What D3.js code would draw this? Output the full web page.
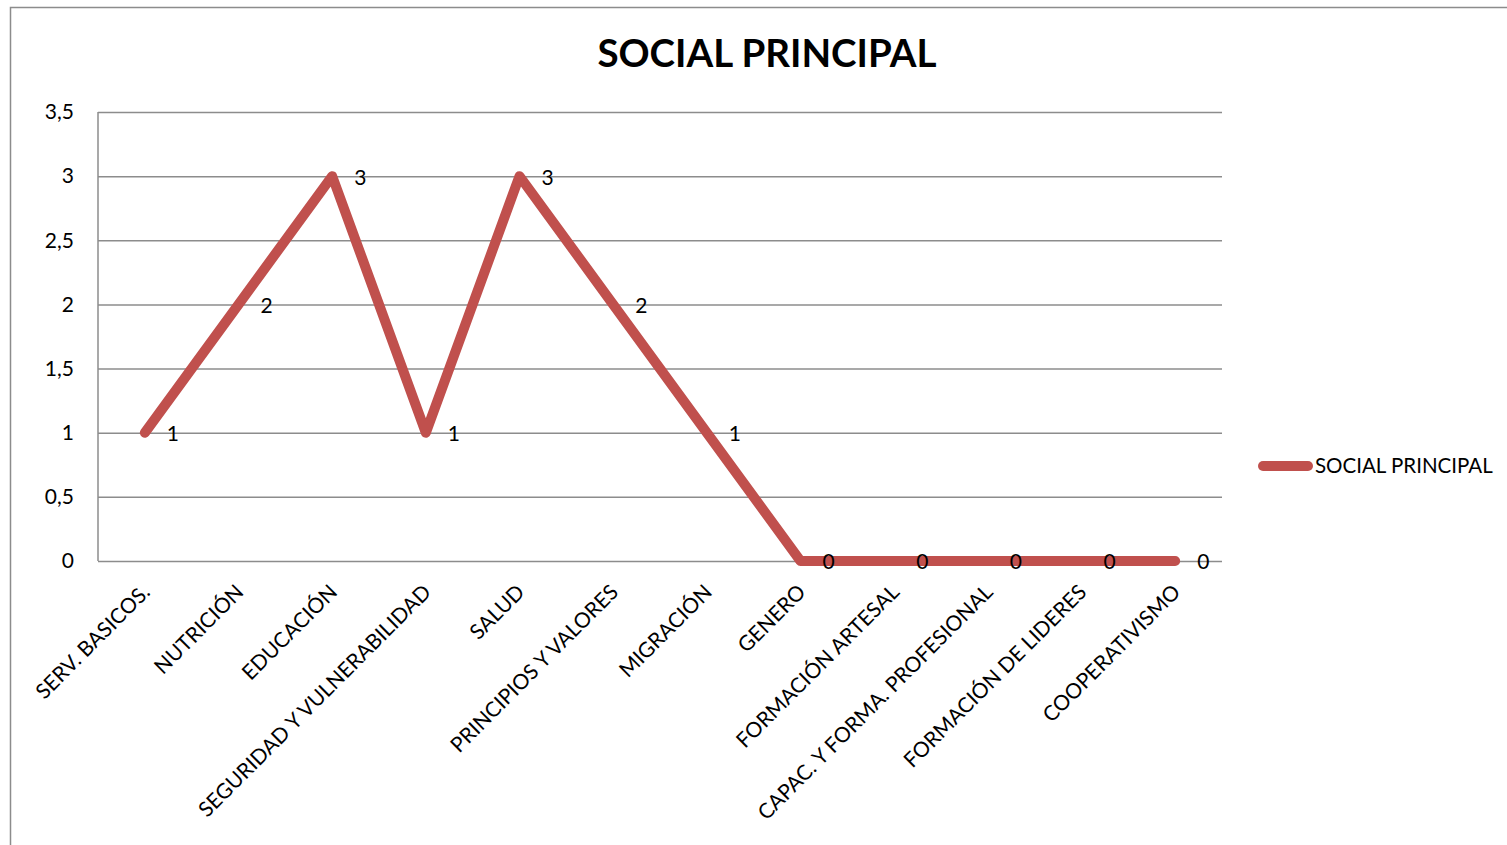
<!DOCTYPE html>
<html>
<head>
<meta charset="utf-8">
<script src="https://cdn.jsdelivr.net/npm/d3@7"></script>
<style>
  body { margin: 0; background: #fff; }
  svg text { font-family: Lato, "Open Sans", sans-serif; fill: #000; }
  .grid line { stroke: #8c8c8c; stroke-width: 1.5; }
  .grid .domain { display: none; }
</style>
</head>
<body>
<div id="chart"></div>
<script>
// chart values
var categories = ['SERV. BASICOS.', 'NUTRICIÓN', 'EDUCACIÓN', 'SEGURIDAD Y VULNERABILIDAD', 'SALUD',
  'PRINCIPIOS Y VALORES', 'MIGRACIÓN', 'GENERO', 'FORMACIÓN ARTESAL', 'CAPAC. Y FORMA. PROFESIONAL',
  'FORMACIÓN DE LIDERES', 'COOPERATIVISMO'];
var values = [1, 2, 3, 1, 3, 2, 1, 0, 0, 0, 0, 0];
var y_ticks = [0, 0.5, 1, 1.5, 2, 2.5, 3, 3.5];
var series_name = 'SOCIAL PRINCIPAL';
var title_text = 'SOCIAL PRINCIPAL';

var W = 1507, H = 845;
var color = '#C0504D';
var svg = d3.select('#chart').append('svg').attr('width', W).attr('height', H);

// outer chart border
svg.append('rect').attr('x', 10.5).attr('y', 7.5).attr('width', W + 10).attr('height', H + 10)
  .attr('fill', 'none').attr('stroke', '#8c8c8c').attr('stroke-width', 1.5);

var plot_left = 98, plot_right = 1222, plot_top = 112, plot_bottom = 561;

var x_scale = d3.scaleBand().domain(categories).range([plot_left, plot_right]);
var y_scale = d3.scaleLinear().domain([0, 3.5]).range([plot_bottom, plot_top]);
var cx = d => x_scale(d) + x_scale.bandwidth() / 2;

// gridlines
svg.append('g').attr('class', 'grid')
  .attr('transform', 'translate(' + plot_left + ',0)')
  .call(d3.axisLeft(y_scale).tickValues(y_ticks).tickSize(-(plot_right - plot_left)).tickFormat(''));

// y axis line
svg.append('line').attr('x1', plot_left).attr('x2', plot_left).attr('y1', plot_top).attr('y2', plot_bottom)
  .attr('stroke', '#8c8c8c').attr('stroke-width', 1.5);

// y tick labels
var fmt = function(d) { return String(d).replace('.', ','); };
svg.append('g').selectAll('text').data(y_ticks).enter().append('text')
  .attr('x', 74).attr('y', d => y_scale(d)).attr('dy', '0.35em')
  .attr('text-anchor', 'end').style('font-size', '21px').text(fmt);

// x labels rotated
svg.append('g').selectAll('text').data(categories).enter().append('text')
  .attr('transform', d => 'translate(' + (cx(d) - 4) + ',' + 583 + ') rotate(-45)')
  .attr('text-anchor', 'end').attr('dy', '0.7em')
  .style('font-size', '21px').text(d => d);

// line
var line = d3.line()
  .x((d, i) => cx(categories[i]))
  .y(d => y_scale(d));
svg.append('path').datum(values).attr('d', line)
  .attr('fill', 'none').attr('stroke', color).attr('stroke-width', 10)
  .attr('stroke-linejoin', 'round').attr('stroke-linecap', 'round');

// data labels
svg.append('g').selectAll('text').data(values).enter().append('text')
  .attr('x', (d, i) => cx(categories[i]) + 22)
  .attr('y', d => y_scale(d)).attr('dy', '0.4em')
  .style('font-size', '21px').text(d => d);

// title
svg.append('text').attr('x', 767).attr('y', 67).attr('text-anchor', 'middle')
  .style('font-size', '38.5px').style('font-weight', 'bold').text(title_text);

// legend
svg.append('line').attr('x1', 1263).attr('x2', 1308).attr('y1', 466).attr('y2', 466)
  .attr('stroke', color).attr('stroke-width', 10).attr('stroke-linecap', 'round');
svg.append('text').attr('x', 1315).attr('y', 466).attr('dy', '0.35em')
  .style('font-size', '20.5px').text(series_name);
</script>
</body>
</html>
